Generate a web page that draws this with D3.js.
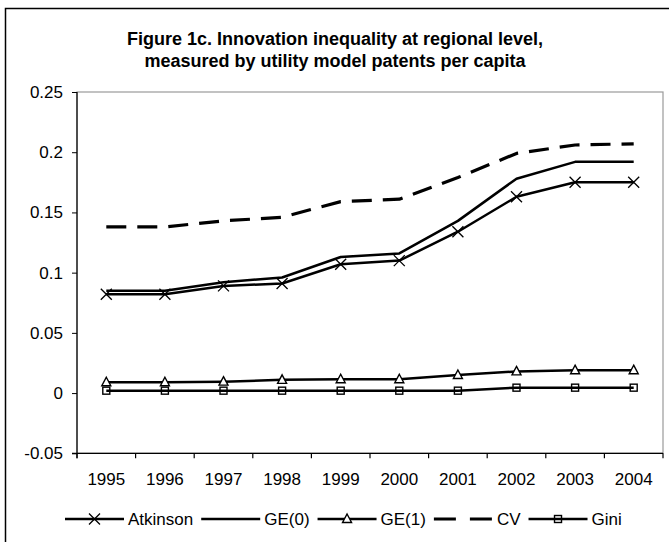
<!DOCTYPE html>
<html>
<head>
<meta charset="utf-8">
<script src="https://cdn.jsdelivr.net/npm/d3@7"></script>
<style>
  html, body { margin: 0; padding: 0; background: #fff; }
  svg { display: block; font-family: "Liberation Sans", Arial, sans-serif; }
</style>
</head>
<body>
<svg id="chart" width="669" height="542"></svg>
<script>
// ---- data ----
const years = ["1995","1996","1997","1998","1999","2000","2001","2002","2003","2004"];
const atkinson = [0.082, 0.082, 0.089, 0.091, 0.107, 0.110, 0.134, 0.163, 0.175, 0.175];
const ge0      = [0.085, 0.085, 0.092, 0.096, 0.113, 0.116, 0.143, 0.178, 0.192, 0.192];
const ge1      = [0.009, 0.009, 0.0095, 0.011, 0.0115, 0.0115, 0.015, 0.018, 0.019, 0.019];
const cv       = [0.138, 0.138, 0.143, 0.146, 0.159, 0.161, 0.179, 0.199, 0.206, 0.207];
const gini     = [0.002, 0.002, 0.002, 0.002, 0.002, 0.002, 0.002, 0.0045, 0.0045, 0.0045];
const yTicks   = [-0.05, 0, 0.05, 0.1, 0.15, 0.2, 0.25];
const yTickLabels = ["-0.05", "0", "0.05", "0.1", "0.15", "0.2", "0.25"];
const titleLines = ["Figure 1c. Innovation inequality at regional level,",
                    "measured by utility model patents per capita"];
const seriesNames = ["Atkinson", "GE(0)", "GE(1)", "CV", "Gini"];

// ---- layout ----
const svg = d3.select("#chart");
const L = 77, R = 663, T = 92, B = 453.3;

const x = d3.scaleBand().domain(years).range([L, R]).paddingInner(0).paddingOuter(0);
const y = d3.scaleLinear().domain([-0.05, 0.25]).range([B, T]);
const cx = d => x(d) + x.bandwidth() / 2;

// outer frame
svg.append("rect").attr("x", 5.5).attr("y", 8.5).attr("width", 720).attr("height", 600)
  .attr("fill", "#fff").attr("stroke", "#000").attr("stroke-width", 1.5);

// title
svg.append("g").selectAll("text").data(titleLines).join("text")
  .attr("x", 335).attr("y", (d, i) => 45 + i * 22)
  .attr("text-anchor", "middle").attr("font-weight", "bold").attr("font-size", 18)
  .text(d => d);

// plot area border (gray)
svg.append("rect").attr("x", L).attr("y", T).attr("width", R - L).attr("height", B - T)
  .attr("fill", "none").attr("stroke", "#9a9a9a").attr("stroke-width", 1.2);

// y axis
const yAxis = d3.axisLeft(y).tickValues(yTicks).tickSize(5).tickPadding(9)
  .tickFormat((d, i) => yTickLabels[i]);
const gy = svg.append("g").attr("transform", `translate(${L},0)`).call(yAxis);
gy.select(".domain").remove();
gy.selectAll(".tick line").attr("stroke", "#000");
gy.selectAll(".tick text").attr("font-size", 17).attr("fill", "#000")
  .attr("font-family", "'Liberation Sans', Arial, sans-serif");
svg.append("line").attr("x1", L).attr("x2", L).attr("y1", T).attr("y2", B + 5)
  .attr("stroke", "#000").attr("stroke-width", 1.2);

// x axis
svg.append("line").attr("x1", L - 5).attr("x2", R).attr("y1", B).attr("y2", B)
  .attr("stroke", "#000").attr("stroke-width", 1.2);
const bounds = years.map(d => x(d) + x.bandwidth()).concat([x(years[0])]);
svg.append("g").selectAll("line").data(bounds).join("line")
  .attr("x1", d => d).attr("x2", d => d).attr("y1", B).attr("y2", B + 5)
  .attr("stroke", "#000").attr("stroke-width", 1.2);
const xAxis = d3.axisBottom(x).tickSize(0).tickPadding(0);
const gx = svg.append("g").attr("transform", `translate(0,${B})`).call(xAxis);
gx.select(".domain").remove();
gx.selectAll(".tick text").attr("y", 32).attr("dy", 0).attr("font-size", 17).attr("fill", "#000")
  .attr("font-family", "'Liberation Sans', Arial, sans-serif");

// lines
const series = [
  { name: "CV", values: cv, dash: "20,11", width: 3.2, marker: null },
  { name: "GE(0)", values: ge0, dash: null, width: 2.5, marker: null },
  { name: "Atkinson", values: atkinson, dash: null, width: 2.5, marker: "x" },
  { name: "GE(1)", values: ge1, dash: null, width: 2.5, marker: "tri" },
  { name: "Gini", values: gini, dash: null, width: 2.5, marker: "sq" }
];
const line = d3.line().x((d, i) => cx(years[i])).y(d => y(d));

function drawMarker(g, type, px, py) {
  if (type === "x") {
    const s = 5.5;
    g.append("path").attr("d", `M${px - s},${py - s}L${px + s},${py + s}M${px - s},${py + s}L${px + s},${py - s}`)
      .attr("stroke", "#000").attr("stroke-width", 1.3).attr("fill", "none");
  } else if (type === "tri") {
    g.append("path").attr("d", `M${px},${py - 5}L${px + 4.5},${py + 3.5}L${px - 4.5},${py + 3.5}Z`)
      .attr("stroke", "#000").attr("stroke-width", 1.4).attr("fill", "#fff");
  } else if (type === "sq") {
    g.append("rect").attr("x", px - 3.5).attr("y", py - 3.5).attr("width", 7).attr("height", 7)
      .attr("stroke", "#000").attr("stroke-width", 1.4).attr("fill", "none");
  }
}

series.forEach(s => {
  const p = svg.append("path").datum(s.values).attr("d", line)
    .attr("fill", "none").attr("stroke", "#000").attr("stroke-width", s.width)
    .attr("stroke-linejoin", "round");
  if (s.dash) p.attr("stroke-dasharray", s.dash);
  if (s.marker) {
    const g = svg.append("g");
    s.values.forEach((v, i) => drawMarker(g, s.marker, cx(years[i]), y(v)));
  }
});

// legend
const legendOrder = ["Atkinson", "GE(0)", "GE(1)", "CV", "Gini"];
const ly = 519;
let lx = 65;
const lg = svg.append("g");
legendOrder.forEach(name => {
  const s = series.find(d => d.name === name);
  const len = 59;
  const ln = lg.append("line").attr("x1", lx).attr("x2", lx + len).attr("y1", ly).attr("y2", ly)
    .attr("stroke", "#000").attr("stroke-width", s.width);
  if (s.dash) ln.attr("stroke-dasharray", "22,14");
  if (s.marker) drawMarker(lg, s.marker, lx + len / 2, ly);
  const t = lg.append("text").attr("x", lx + len + 4).attr("y", ly).attr("dy", "0.35em")
    .attr("font-size", 17).text(name);
  lx = lx + len + 4 + t.node().getComputedTextLength() + 8;
});
</script>
</body>
</html>
